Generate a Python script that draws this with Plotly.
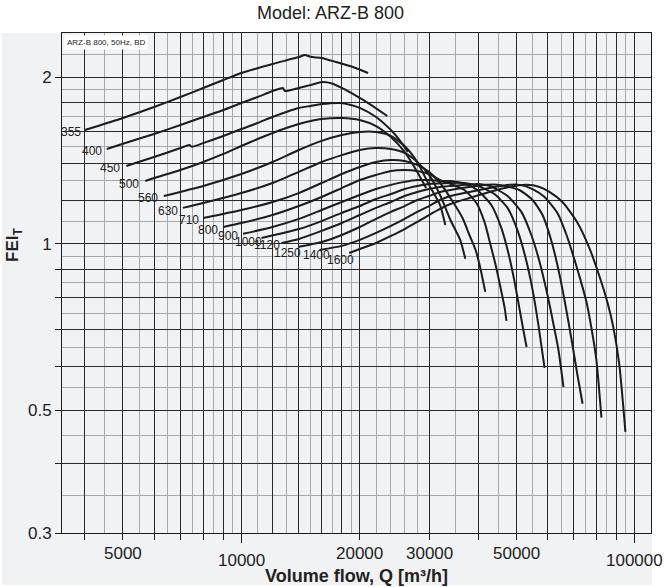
import math
import plotly.graph_objects as go

SIZES = ["355", "400", "450", "500", "560", "630", "710", "800", "900", "1000", "1120", "1250", "1400", "1600"]

Q355 = [4000, 5000, 6000, 7000, 8000, 9000, 10000, 12000, 14000, 14500, 15000, 16000, 17400, 19200, 21000]
F355 = [1.607, 1.690, 1.769, 1.844, 1.915, 1.980, 2.038, 2.116, 2.178, 2.197, 2.180, 2.169, 2.133, 2.090, 2.038]

Q400 = [4550, 5000, 6000, 7000, 8000, 9000, 10000, 11000, 12000, 12750, 12900, 14000, 15000, 16100, 17000, 18000, 19400, 21200, 23500]
F400 = [1.485, 1.518, 1.581, 1.641, 1.697, 1.747, 1.799, 1.844, 1.891, 1.915, 1.891, 1.915, 1.939, 1.963, 1.951, 1.915, 1.860, 1.791, 1.704]

Q450 = [5100, 6000, 7000, 7380, 7480, 8000, 9000, 10000, 11000, 12000, 13000, 14000, 15000, 16000, 17800, 19000, 20000, 22000, 24000, 25000, 26500]
F450 = [1.384, 1.436, 1.491, 1.510, 1.499, 1.522, 1.568, 1.614, 1.655, 1.697, 1.733, 1.762, 1.777, 1.791, 1.799, 1.784, 1.762, 1.697, 1.607, 1.555, 1.467]

Q500 = [5700, 6000, 7000, 8000, 9000, 10000, 11000, 12000, 13000, 14000, 15000, 16000, 18000, 20000, 22000, 24000, 26000, 28000, 29500]
F500 = [1.300, 1.316, 1.361, 1.407, 1.455, 1.504, 1.548, 1.587, 1.621, 1.648, 1.669, 1.683, 1.690, 1.676, 1.634, 1.561, 1.467, 1.350, 1.262]

Q560 = [6350, 8000, 10000, 12000, 14000, 16000, 18000, 20000, 22000, 24000, 26000, 28000, 30000, 32000, 33000]
F560 = [1.221, 1.273, 1.338, 1.407, 1.479, 1.536, 1.574, 1.594, 1.594, 1.568, 1.504, 1.407, 1.279, 1.176, 1.082]

Q630 = [7100, 8000, 10000, 12000, 14000, 16000, 18000, 20000, 22000, 24000, 26000, 28000, 30000, 32000, 34000, 36000, 37100]
F630 = [1.162, 1.186, 1.236, 1.289, 1.350, 1.407, 1.448, 1.479, 1.491, 1.485, 1.461, 1.407, 1.333, 1.226, 1.105, 1.017, 0.940]

Q710 = [8000, 10000, 12000, 14000, 16000, 18000, 20000, 22000, 24000, 26000, 28000, 30000, 32000, 34000, 36500, 38000, 39400, 40500, 41700]
F710 = [1.114, 1.152, 1.191, 1.236, 1.289, 1.338, 1.378, 1.407, 1.419, 1.413, 1.390, 1.350, 1.289, 1.211, 1.114, 1.038, 0.975, 0.905, 0.819]

Q800 = [9000, 10000, 12000, 14000, 16000, 18000, 20000, 22000, 24000, 26000, 28000, 30000, 32000, 34000, 36900, 39600, 41500, 43000, 44300, 45600, 46700, 47200]
F800 = [1.073, 1.091, 1.128, 1.171, 1.216, 1.262, 1.305, 1.333, 1.355, 1.361, 1.355, 1.338, 1.305, 1.284, 1.252, 1.186, 1.096, 0.996, 0.916, 0.833, 0.766, 0.726]

Q900 = [10100, 12000, 14000, 16000, 18000, 20000, 22000, 24000, 26000, 28000, 30000, 32000, 34000, 37100, 39800, 43200, 45800, 47800, 49500, 50900, 52100, 53100]
F900 = [1.043, 1.073, 1.110, 1.152, 1.191, 1.226, 1.257, 1.279, 1.295, 1.305, 1.305, 1.300, 1.300, 1.284, 1.252, 1.176, 1.069, 0.959, 0.854, 0.766, 0.699, 0.651]

Q1000 = [11250, 14000, 16000, 18000, 20000, 22000, 24000, 26000, 28000, 30000, 34000, 37000, 40000, 44000, 47500, 50300, 52800, 55000, 56900, 59000]
F1000 = [1.025, 1.064, 1.100, 1.138, 1.171, 1.206, 1.231, 1.257, 1.273, 1.284, 1.289, 1.289, 1.273, 1.231, 1.162, 1.060, 0.943, 0.826, 0.714, 0.597]

Q1120 = [12650, 14000, 16000, 18000, 20000, 22000, 24000, 26000, 28000, 30000, 32000, 34000, 37000, 40000, 42900, 47500, 51500, 54600, 57300, 60000, 62200, 64000, 65900]
F1120 = [1.004, 1.021, 1.056, 1.091, 1.128, 1.162, 1.191, 1.221, 1.242, 1.257, 1.268, 1.273, 1.279, 1.284, 1.273, 1.221, 1.143, 1.038, 0.928, 0.809, 0.714, 0.643, 0.551]

Q1250 = [14000, 16000, 18000, 20000, 22000, 24000, 26000, 28000, 30000, 32000, 34000, 38000, 42000, 45300, 50900, 55000, 58300, 61100, 63600, 66300, 69100, 71500, 73700]
F1250 = [0.988, 1.008, 1.038, 1.073, 1.110, 1.143, 1.171, 1.201, 1.221, 1.242, 1.252, 1.268, 1.279, 1.279, 1.252, 1.201, 1.128, 1.025, 0.916, 0.792, 0.671, 0.580, 0.514]

Q1400 = [15800, 18000, 20000, 22000, 24000, 26000, 28000, 30000, 32000, 34000, 38000, 42700, 48000, 51000, 55000, 59000, 63600, 67100, 70300, 72800, 75400, 77600, 79900, 82300]
F1400 = [0.975, 0.992, 1.017, 1.047, 1.078, 1.110, 1.143, 1.171, 1.201, 1.221, 1.242, 1.262, 1.279, 1.279, 1.257, 1.216, 1.138, 1.038, 0.936, 0.861, 0.785, 0.705, 0.617, 0.485]

Q1600 = [18800, 20000, 22000, 24000, 26000, 28000, 30000, 32000, 34000, 38000, 42700, 48000, 53000, 57300, 60700, 65500, 71100, 76700, 81300, 85200, 88300, 91400, 94700]
F1600 = [0.963, 0.979, 1.004, 1.034, 1.064, 1.096, 1.128, 1.157, 1.181, 1.211, 1.242, 1.268, 1.279, 1.268, 1.242, 1.191, 1.100, 0.983, 0.875, 0.785, 0.705, 0.604, 0.457]

# label offsets (pixels) from each curve's first point
LABEL_DX = [-14, -15, -16, -16, -16, -15, -14, -15, -15, -13, -15, -11, -3, -9]
LABEL_DY = [-2, -2, -2, -3, -2, -3, -2, -3, -2, -4, -2, -6, -5, -7]

X_MAJOR = [4000, 5000, 6000, 7000, 8000, 9000, 10000, 12000, 14000, 16000, 18000, 20000,
           30000, 40000, 50000, 60000, 70000, 80000, 90000, 100000]
X_TICKED = [4000, 5000, 6000, 7000, 8000, 9000, 10000, 20000, 30000, 40000, 50000, 60000, 70000, 80000, 90000, 100000]
X_MINOR = [4500, 5500, 6500, 7500, 8500, 9500, 11000, 13000, 15000, 17000, 19000,
           22000, 24000, 26000, 28000, 35000, 45000, 55000, 65000, 75000, 85000, 95000]
X_LONG = [10000, 100000]
X_LABELS = [5000, 10000, 20000, 30000, 50000, 100000]

Y_MAJOR = [0.3, 0.4, 0.5, 0.6, 0.7, 0.8, 0.9, 1.0, 1.2, 1.4, 1.6, 1.8, 2.0]
Y_TICKED = [0.3, 0.4, 0.5, 0.6, 0.7, 0.8, 0.9, 1.0, 2.0]
Y_TICKTEXT = ["0.3", "", "0.5", "", "", "", "", "1", "2"]
Y_MINOR = [0.35, 0.45, 0.55, 0.65, 0.75, 0.85, 0.95, 1.1, 1.3, 1.5, 1.7, 1.9, 2.2]

curves = [
    (Q355, F355), (Q400, F400), (Q450, F450), (Q500, F500), (Q560, F560), (Q630, F630), (Q710, F710),
    (Q800, F800), (Q900, F900), (Q1000, F1000), (Q1120, F1120), (Q1250, F1250), (Q1400, F1400), (Q1600, F1600),
]

FONT = "Liberation Sans, Arial, sans-serif"
INK = "#1c1c1c"
DARK_GRID = "#2a2a2a"
LIGHT_GRID = "#a6aaae"
W, H = 667, 587
L, R, T, B = 62, 16, 33, 54
PW, PH = W - L - R, H - T - B


def px_x(px):
    return (px - L) / PW


def px_y(py):
    return (H - B - py) / PH


fig = go.Figure()
for name, (q, f) in zip(SIZES, curves):
    fig.add_trace(go.Scatter(x=q, y=f, mode="lines", name=name,
                             line=dict(color=INK, width=2, shape="spline", smoothing=0.6),
                             showlegend=False, hoverinfo="skip"))
# carriers for the tick overlay axes
fig.add_trace(go.Scatter(x=X_LONG, y=[1, 1], xaxis="x2", mode="markers", marker=dict(opacity=0),
                         showlegend=False, hoverinfo="skip"))
fig.add_trace(go.Scatter(x=X_TICKED[:2], y=[1, 1], xaxis="x3", mode="markers", marker=dict(opacity=0),
                         showlegend=False, hoverinfo="skip"))
fig.add_trace(go.Scatter(x=[10000, 10000], y=Y_TICKED[:2], yaxis="y2", mode="markers", marker=dict(opacity=0),
                         showlegend=False, hoverinfo="skip"))

annotations = []
for i, (name, (q, f)) in enumerate(zip(SIZES, curves)):
    annotations.append(dict(x=math.log10(q[0]), y=math.log10(f[0]), xref="x", yref="y", text=name,
                            showarrow=False, xanchor="center", yanchor="middle",
                            xshift=LABEL_DX[i], yshift=LABEL_DY[i],
                            font=dict(family=FONT, size=12, color="#222")))

for v in X_LABELS:
    low = v in X_LONG
    annotations.append(dict(x=math.log10(v), y=px_y(560 if low else 553), xref="x", yref="paper",
                            text=str(v), showarrow=False, xanchor="center", yanchor="middle",
                            font=dict(family=FONT, size=17, color="#222")))

annotations.append(dict(x=0.5, y=px_y(576), xref="paper", yref="paper", text="<b>Volume flow, Q [m³/h]</b>",
                        showarrow=False, xanchor="center", yanchor="middle",
                        font=dict(family=FONT, size=18, color="#222")))
annotations.append(dict(x=px_x(14), y=px_y(245), xref="paper", yref="paper", text="<b>FEI<sub>T</sub></b>",
                        textangle=-90, showarrow=False, xanchor="center", yanchor="middle",
                        font=dict(family=FONT, size=17, color="#222")))
annotations.append(dict(x=px_x(64), y=px_y(35), xref="paper", yref="paper", text="ARZ-B 800, 50Hz, BD",
                        showarrow=False, xanchor="left", yanchor="top", bgcolor="white", borderpad=2,
                        font=dict(family=FONT, size=8, color="#222")))
annotations.append(dict(x=px_x(330), y=px_y(13), xref="paper", yref="paper", text="Model: ARZ-B 800",
                        showarrow=False, xanchor="center", yanchor="middle",
                        font=dict(family=FONT, size=18, color="#222")))

# Panel plate behind the plot
shapes = [dict(type="rect", xref="paper", yref="paper", x0=px_x(2), x1=px_x(652), y0=px_y(585), y1=px_y(T),
               fillcolor="#f1f2f4", line=dict(width=0), layer="below")]

XRANGE = [math.log10(3500), math.log10(110000)]
YRANGE = [math.log10(0.3), 0.3816]

fig.update_layout(
    width=W, height=H,
    margin=dict(l=L, r=R, t=T, b=B, pad=0),
    paper_bgcolor="white", plot_bgcolor="#f1f2f4",
    annotations=annotations, shapes=shapes,
    font=dict(family=FONT, color="#222"),
    xaxis=dict(type="log", range=XRANGE,
               tickmode="array", tickvals=X_MAJOR, ticktext=[" "] * len(X_MAJOR), ticks="",
               showgrid=True, gridcolor=DARK_GRID, gridwidth=1,
               minor=dict(tickmode="array", tickvals=X_MINOR, showgrid=True, gridcolor=LIGHT_GRID, gridwidth=1.3, ticks=""),
               showline=True, linecolor=INK, linewidth=1, mirror=True, zeroline=False),
    xaxis2=dict(type="log", range=XRANGE, overlaying="x", anchor="y", side="bottom",
                tickmode="array", tickvals=X_LONG, ticktext=[" ", " "],
                ticks="outside", ticklen=9, tickcolor=INK, tickwidth=1,
                showgrid=False, showline=False, zeroline=False),
    xaxis3=dict(type="log", range=XRANGE, overlaying="x", anchor="y", side="bottom",
                tickmode="array", tickvals=X_TICKED, ticktext=[" "] * len(X_TICKED),
                ticks="outside", ticklen=6, tickcolor=INK, tickwidth=1,
                showgrid=False, showline=False, zeroline=False),
    yaxis=dict(type="log", range=YRANGE,
               tickmode="array", tickvals=Y_MAJOR, ticktext=[""] * len(Y_MAJOR), ticks="",
               showgrid=True, gridcolor=DARK_GRID, gridwidth=1,
               minor=dict(tickmode="array", tickvals=Y_MINOR, showgrid=True, gridcolor=LIGHT_GRID, gridwidth=1.3, ticks=""),
               showline=True, linecolor=INK, linewidth=1, mirror=True, zeroline=False),
    yaxis2=dict(type="log", range=YRANGE, overlaying="y", anchor="x", side="left",
                tickmode="array", tickvals=Y_TICKED, ticktext=Y_TICKTEXT,
                ticks="outside", ticklen=6, tickcolor=INK, tickwidth=1,
                tickfont=dict(family=FONT, size=17, color="#222"),
                showgrid=False, showline=False, zeroline=False),
)

fig.write_html("out.html", config={"displayModeBar": False},
               post_script="document.body.style.margin='0px';")
